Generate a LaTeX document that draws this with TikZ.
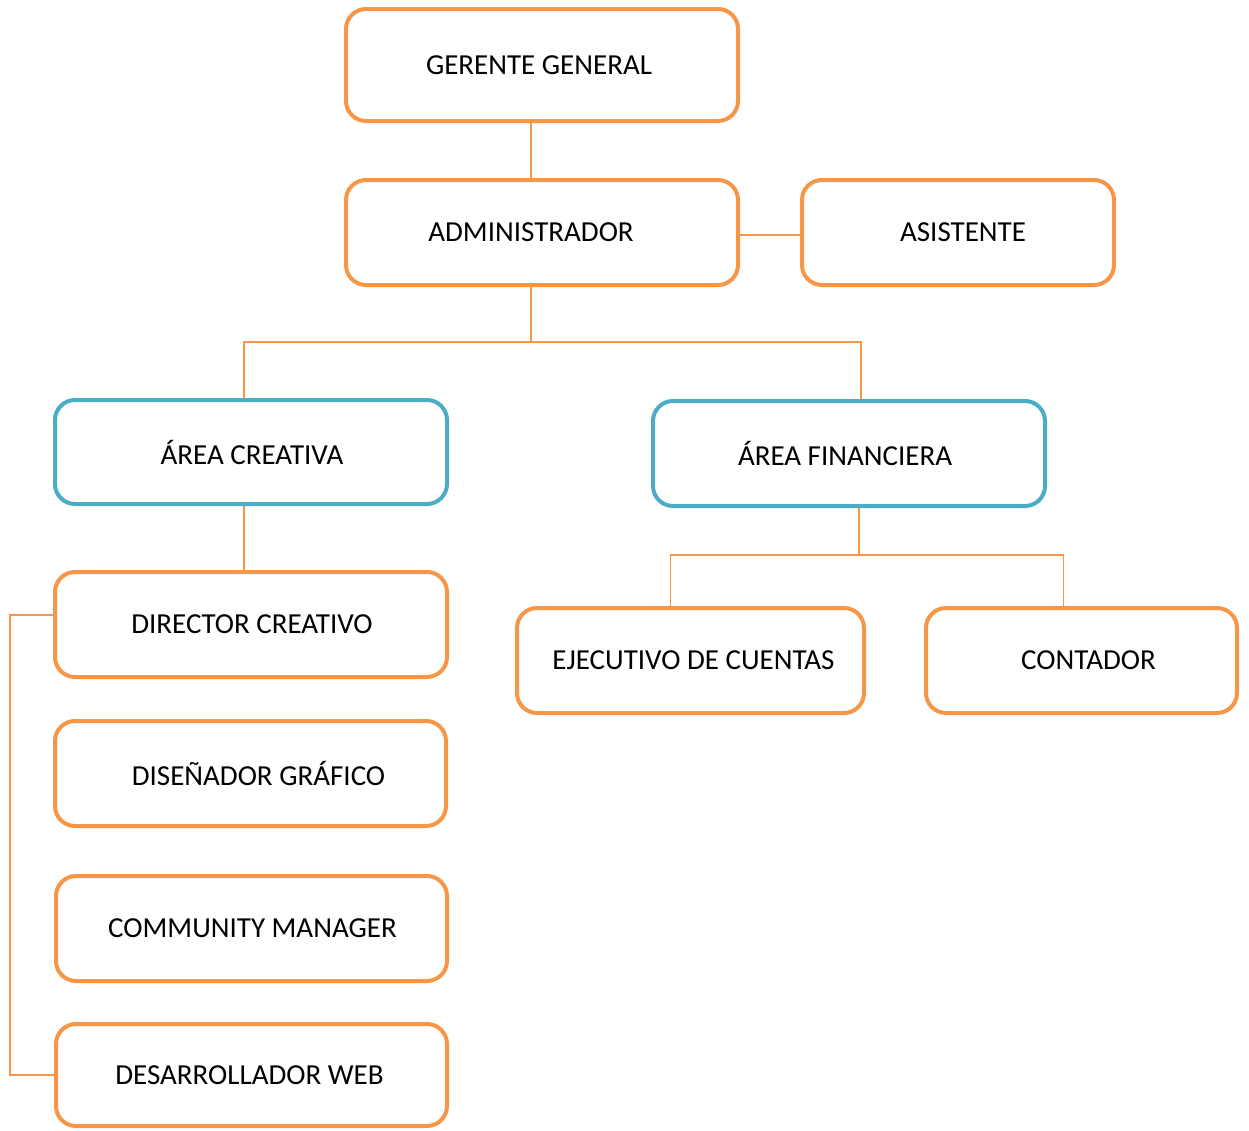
\documentclass[tikz,border=0pt]{standalone}
\usepackage{fontspec}
\setmainfont{Carlito}
\definecolor{orgc}{HTML}{F79646}
\definecolor{bluc}{HTML}{4BACC6}
\newcommand\shx[2]{\ifdim#1pt>0pt\hspace*{#1pt}\hspace*{#1pt}#2\else#2\hspace*{-#1pt}\hspace*{-#1pt}\fi}
\begin{document}
\begin{tikzpicture}[x=1pt,y=-1pt,
  box/.style={draw=orgc,line width=4pt,rounded corners=20pt,fill=white,
    inner sep=0pt,font=\fontsize{29}{34}\selectfont,text=black},
  bbox/.style={box,draw=bluc},
  link/.style={draw=orgc,line width=1.6pt}]
\useasboundingbox (0,0) rectangle (1249,1130);
% nodes
\node[box,minimum width=392pt,minimum height=112pt] (ger) at (542,65) {\shx{-3}{GERENTE GENERAL}};
\node[box,minimum width=392pt,minimum height=105pt] (adm) at (542,232.5) {\shx{-11}{ADMINISTRADOR}};
\node[box,minimum width=312pt,minimum height=105pt] (asi) at (958,232.5) {\shx{5}{ASISTENTE}};
\node[bbox,minimum width=392pt,minimum height=104pt] (ac) at (251,452) {\shx{1}{ÁREA CREATIVA}};
\node[bbox,minimum width=392pt,minimum height=105pt] (af) at (849,453.5) {\shx{-4}{ÁREA FINANCIERA}};
\node[box,minimum width=392pt,minimum height=105pt] (dc) at (251,624.5) {\shx{1}{DIRECTOR CREATIVO}};
\node[box,minimum width=391pt,minimum height=105pt] (dg) at (250.5,773.5) {\shx{8}{DISEÑADOR GRÁFICO}};
\node[box,minimum width=391pt,minimum height=105pt] (cm) at (251.5,928.5) {\shx{1}{COMMUNITY MANAGER}};
\node[box,minimum width=391pt,minimum height=102pt] (dw) at (251.5,1075) {\shx{-2}{DESARROLLADOR WEB}};
\node[box,minimum width=347pt,minimum height=105pt] (ej) at (690.5,660.5) {\shx{3}{EJECUTIVO DE CUENTAS}};
\node[box,minimum width=311pt,minimum height=105pt] (co) at (1081.5,660.5) {\shx{7}{CONTADOR}};
% connectors
\coordinate (bus1) at (531,342);
\coordinate (bus2) at (859,555);
\coordinate (lft) at (10,615);
\draw[link] ([xshift=-11pt]ger.south) -- ([xshift=-11pt]adm.north);
\draw[link] (adm.east |- 0,235) -- (asi.west |- 0,235);
\draw[link] ([xshift=-11pt]adm.south) -- (bus1);
\draw[link] ([xshift=-7pt]ac.north) |- (bus1) -| ([xshift=12pt]af.north);
\draw[link] ([xshift=-7pt]ac.south) -- ([xshift=-7pt]dc.north);
\draw[link] ([xshift=10pt]af.south) -- (bus2);
\draw[link] ([xshift=-20pt]ej.north) |- (bus2) -| ([xshift=-18pt]co.north);
\draw[link] (dc.west |- lft) -- (lft) |- (dw.west);
\end{tikzpicture}
\end{document}
